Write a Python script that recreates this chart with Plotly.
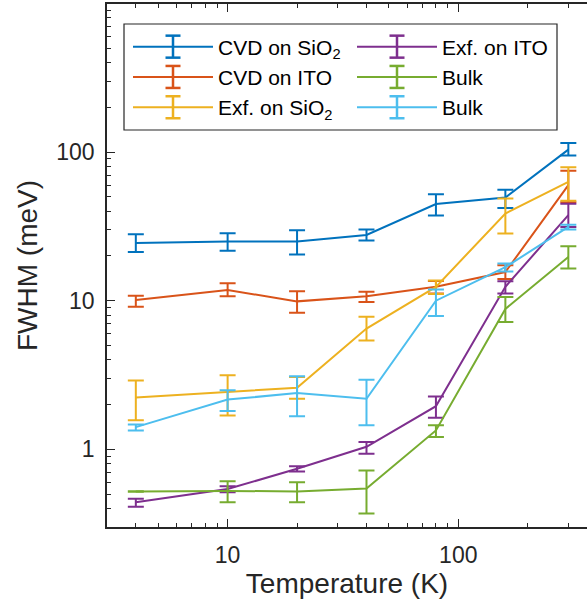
import plotly.graph_objects as go

# ---- data ----
temperature = [4, 10, 20, 40, 80, 160, 300]

series_names = ["CVD on SiO<sub>2</sub>", "CVD on ITO", "Exf. on SiO<sub>2</sub>",
                "Exf. on ITO", "Bulk", "Bulk"]

cvd_sio2 = [24.5, 25.0, 25.0, 27.7, 44.7, 49.5, 104]
cvd_sio2_hi = [28.0, 28.5, 29.8, 30.2, 52.0, 55.8, 115]
cvd_sio2_lo = [21.3, 21.7, 20.5, 25.4, 37.5, 42.0, 95]

cvd_ito = [10.1, 11.8, 9.9, 10.7, 12.4, 15.6, 60]
cvd_ito_hi = [10.8, 13.1, 11.6, 11.5, 13.6, 17.3, 75]
cvd_ito_lo = [9.1, 10.7, 8.3, 9.8, 11.2, 14.0, 46]

exf_sio2 = [2.23, 2.43, 2.6, 6.5, 12.4, 38.6, 63]
exf_sio2_hi = [2.91, 3.15, 3.07, 7.8, 13.7, 48.8, 79]
exf_sio2_lo = [1.57, 1.69, 2.19, 5.4, 11.1, 28.3, 47]

exf_ito = [0.44, 0.54, 0.74, 1.04, 1.95, 12.4, 37.7]
exf_ito_hi = [0.465, 0.565, 0.77, 1.12, 2.27, 13.5, 45]
exf_ito_lo = [0.41, 0.515, 0.71, 0.935, 1.63, 11.2, 31.4]

bulk_a = [0.52, 0.525, 0.52, 0.545, 1.34, 8.8, 19.7]
bulk_a_hi = [0.522, 0.61, 0.60, 0.72, 1.45, 10.6, 23.3]
bulk_a_lo = [0.518, 0.44, 0.44, 0.37, 1.21, 7.2, 16.5]

bulk_b = [1.41, 2.16, 2.39, 2.19, 10.0, 16.8, 31.4]
bulk_b_hi = [1.47, 2.5, 3.1, 2.94, 11.9, 17.8, 32.5]
bulk_b_lo = [1.34, 1.81, 1.67, 1.45, 7.9, 15.7, 30.2]

y_tick_vals = [1, 10, 100]
y_tick_text = ["1", "10", "100"]
x_tick_vals = [10, 100]
x_tick_text = ["10", "100"]

colors = ["#0072BD", "#D95319", "#EDB120", "#7E2F8E", "#77AC30", "#4DBEEE"]
legend_groups = ["legend", "legend", "legend", "legend2", "legend2", "legend2"]

series = [
    (cvd_sio2, cvd_sio2_hi, cvd_sio2_lo),
    (cvd_ito, cvd_ito_hi, cvd_ito_lo),
    (exf_sio2, exf_sio2_hi, exf_sio2_lo),
    (exf_ito, exf_ito_hi, exf_ito_lo),
    (bulk_a, bulk_a_hi, bulk_a_lo),
    (bulk_b, bulk_b_hi, bulk_b_lo),
]

# ---- layout geometry (pixels) ----
W, H = 587, 604
ML, MR, MT, MB = 107, 0, 4, 77
PW, PH = W - ML - MR, H - MT - MB
LEG_FONT = 21
ITEM_W = 80
LEG1_LEFT, LEG2_LEFT, LEG_TOP = 128, 352, 26.5


def px_to_paper_x(px):
    return (px - ML) / PW


def px_to_paper_y(py):
    return 1 - (py - MT) / PH


fig = go.Figure()
for (vals, hi, lo), name, col in zip(series, series_names, colors):
    fig.add_trace(go.Scatter(
        x=temperature, y=vals, mode="lines", name=name, showlegend=False,
        line=dict(color=col, width=2),
        error_y=dict(type="data", symmetric=False,
                     array=[h - v for h, v in zip(hi, vals)],
                     arrayminus=[v - l for v, l in zip(vals, lo)],
                     color=col, thickness=2, width=8),
    ))

# legend entries (two legends = two columns)
for name, col, lg in zip(series_names, colors, legend_groups):
    fig.add_trace(go.Scatter(
        x=[None], y=[None], mode="lines+markers", name=name, legend=lg,
        line=dict(color=col, width=2),
        marker=dict(symbol="line-ns", size=22, line=dict(color=col, width=2.5)),
    ))

# error-bar caps for the legend glyphs
item_h = 1.3 * LEG_FONT + 3
shapes = []
for i, (col, lg) in enumerate(zip(colors, legend_groups)):
    row = i % 3
    left = LEG1_LEFT if lg == "legend" else LEG2_LEFT
    cx = left + ITEM_W / 2 + 5
    cy = LEG_TOP + 5 + item_h / 2 + row * item_h
    for dy in (11, -11):
        shapes.append(dict(
            type="line", xref="paper", yref="paper",
            xsizemode="pixel", ysizemode="pixel",
            xanchor=px_to_paper_x(cx), yanchor=px_to_paper_y(cy),
            x0=-7.5, x1=7.5, y0=dy, y1=dy,
            line=dict(color=col, width=2.5), layer="above",
        ))

# legend box
legend_box = dict(type="rect", xref="paper", yref="paper",
                  x0=px_to_paper_x(124), x1=px_to_paper_x(557),
                  y0=px_to_paper_y(130), y1=px_to_paper_y(24),
                  line=dict(color="#262626", width=1.2), fillcolor="white",
                  layer="above")
shapes = [legend_box] + shapes

axis_color = "#262626"
font_family = "Arial, Liberation Sans, sans-serif"

x_minor = [3, 4, 5, 6, 7, 8, 9, 20, 30, 40, 50, 60, 70, 80, 90, 200, 300]
y_minor = [0.3, 0.4, 0.5, 0.6, 0.7, 0.8, 0.9, 2, 3, 4, 5, 6, 7, 8, 9,
           20, 30, 40, 50, 60, 70, 80, 90, 200, 300, 400, 500, 600, 700, 800, 900]

fig.update_xaxes(
    type="log", range=[0.4771, 2.558],
    tickmode="array", tickvals=x_tick_vals, ticktext=x_tick_text,
    ticks="inside", ticklen=8, tickwidth=1, tickcolor=axis_color,
    minor=dict(tickmode="array", tickvals=x_minor, ticks="inside",
               ticklen=4, tickwidth=1, tickcolor=axis_color, showgrid=False),
    showline=True, linecolor=axis_color, linewidth=1.5, mirror="allticks",
    showgrid=False, zeroline=False,
    tickfont=dict(size=23, color=axis_color, family=font_family),
    title=dict(text="Temperature (K)", font=dict(size=28, color=axis_color, family=font_family),
               standoff=3),
    ticklabelstandoff=7,
)
fig.update_yaxes(
    type="log", range=[-0.5229, 2.997],
    tickmode="array", tickvals=y_tick_vals, ticktext=y_tick_text,
    ticks="inside", ticklen=8, tickwidth=1, tickcolor=axis_color,
    minor=dict(tickmode="array", tickvals=y_minor, ticks="inside",
               ticklen=4, tickwidth=1, tickcolor=axis_color, showgrid=False),
    showline=True, linecolor=axis_color, linewidth=1.5, mirror=False,
    showgrid=False, zeroline=False,
    tickfont=dict(size=23, color=axis_color, family=font_family),
    title=dict(text="FWHM (meV)", font=dict(size=28, color=axis_color, family=font_family),
               standoff=10),
    ticklabelstandoff=6,
)

legend_style = dict(
    orientation="v", xanchor="left", yanchor="top",
    bgcolor="rgba(0,0,0,0)", borderwidth=0,
    font=dict(size=LEG_FONT, color="black", family=font_family),
    itemwidth=ITEM_W, traceorder="normal",
)

fig.update_layout(
    width=W, height=H,
    margin=dict(l=ML, r=MR, t=MT, b=MB),
    paper_bgcolor="white", plot_bgcolor="white",
    font=dict(family=font_family, color=axis_color),
    showlegend=True,
    legend=dict(x=px_to_paper_x(LEG1_LEFT), y=px_to_paper_y(LEG_TOP), **legend_style),
    legend2=dict(x=px_to_paper_x(LEG2_LEFT), y=px_to_paper_y(LEG_TOP), **legend_style),
    shapes=shapes,
)

fig.write_html("out.html", config={"displayModeBar": False},
               post_script="document.body.style.margin='0px';")
